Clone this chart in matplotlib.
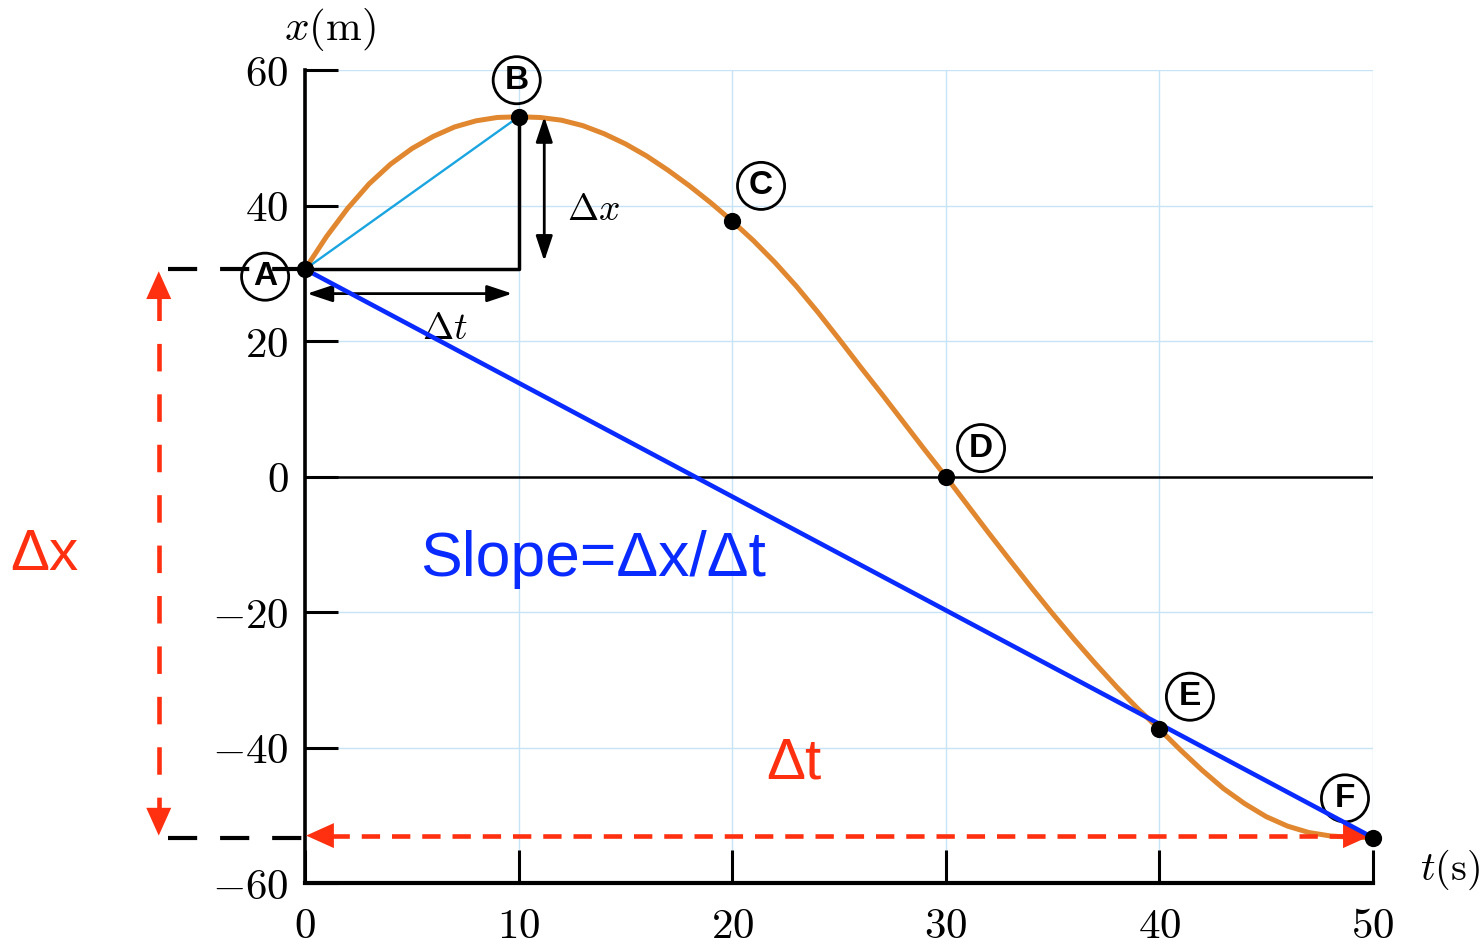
import matplotlib
matplotlib.use("Agg")
import matplotlib.pyplot as plt

plt.rcParams['mathtext.fontset'] = 'cm'
plt.rcParams['font.family'] = ['Liberation Sans', 'DejaVu Sans']

# position curve x(t), read every second
t_curve = list(range(0, 51))
x_curve = [30.6, 35.4, 39.6, 43.2, 46.1, 48.4, 50.2, 51.6, 52.5, 53.0,
           53.1, 53.0, 52.6, 51.8, 50.6, 49.1, 47.3, 45.2, 42.9, 40.4,
           37.7, 34.8, 31.6, 28.1, 24.3, 20.3, 16.2, 12.2, 8.1, 4.0,
           0.0, -4.15, -8.3, -12.35, -16.35, -20.25, -24.0, -27.6, -31.05, -34.3,
           -37.3, -40.4, -43.35, -46.05, -48.3, -50.2, -51.6, -52.55, -53.05, -53.25,
           -53.3]

# labelled points A..F
pt_names = ['A', 'B', 'C', 'D', 'E', 'F']
pt_t = [0, 10, 20, 30, 40, 50]
pt_x = [30.6, 53.1, 37.7, 0.0, -37.3, -53.3]
# where the circled letters sit
lbl_t = [-1.87, 9.91, 21.35, 31.65, 41.43, 48.69]
lbl_x = [29.5, 58.5, 42.9, 4.2, -32.5, -47.5]

x_ticks = [0, 10, 20, 30, 40, 50]
y_ticks = [-60, -40, -20, 0, 20, 40, 60]

orange = '#E0872F'
blue = '#0A2BFF'
cyan = '#1AA5E0'
red = '#FF3010'
grid_col = '#C6E4F5'

fig = plt.figure(figsize=(14.83, 9.44), dpi=100)
ax = fig.add_axes([0.2057, 0.0646, 0.7201, 0.8612])
ax.set_xlim(0, 50)
ax.set_ylim(-60, 60)

ax.spines['top'].set_visible(False)
ax.spines['right'].set_visible(False)
ax.spines['left'].set_linewidth(2.6)
ax.spines['bottom'].set_linewidth(3.0)

ax.set_xticks(x_ticks)
ax.set_yticks(y_ticks)
ax.set_xticklabels(['$%d$' % v for v in x_ticks])
ax.set_yticklabels(['$%d$' % v for v in y_ticks])
ax.tick_params(direction='in', length=24, width=2.2, labelsize=31, colors='black')
ax.tick_params(axis='x', pad=17)
ax.tick_params(axis='y', pad=12)

ax.set_axisbelow(True)
ax.grid(True, color=grid_col, lw=1.0)

# t axis through zero
ax.plot([0, 50], [0, 0], color='black', lw=1.8, zorder=2)

# axis names
ax.text(1.17, 66.0, r'$x(\mathrm{m})$', fontsize=31, ha='center', va='center')
ax.text(53.6, -58.0, r'$t(\mathrm{s})$', fontsize=29, ha='center', va='center')

# circled letters
ax.scatter(lbl_t, lbl_x, s=1150, facecolors='none', edgecolors='black',
           linewidths=2.0, zorder=2, clip_on=False)
for n, lt, lx in zip(pt_names, lbl_t, lbl_x):
    ax.text(lt, lx, n, fontsize=24, fontweight='bold', ha='center',
            va='center', zorder=2)

# curve
ax.plot(t_curve, x_curve, color=orange, lw=3.6, zorder=3,
        solid_capstyle='round', solid_joinstyle='round')

# chord A-B and the triangle under it
ax.plot([pt_t[0], pt_t[1]], [pt_x[0], pt_x[1]], color=cyan, lw=1.7, zorder=4)
ax.plot([pt_t[0], pt_t[1], pt_t[1]], [pt_x[0], pt_x[0], pt_x[1]],
        color='black', lw=2.5, zorder=3)

# secant A-F
ax.plot([pt_t[0], pt_t[5]], [pt_x[0], pt_x[5]], color=blue, lw=3.3, zorder=4)

# small delta arrows
blk = dict(arrowstyle='<|-|>,head_length=0.9,head_width=0.3', color='black',
           lw=2.0, shrinkA=0, shrinkB=0, mutation_scale=17)
ax.annotate('', xy=(11.2, pt_x[1]), xytext=(11.2, 31.8), arrowprops=blk)
ax.annotate('', xy=(0.1, 27.0), xytext=(9.7, 27.0), arrowprops=blk)
ax.text(13.5, 39.3, r'$\Delta x$', fontsize=27, ha='center', va='center')
ax.text(6.55, 21.8, r'$\Delta t$', fontsize=27, ha='center', va='center')

# big delta guides
t_left = -6.4
t_red = -6.85
ax.plot([t_left, 0], [pt_x[0], pt_x[0]], color='black', lw=3.0,
        ls=(0, (7, 5.5)), clip_on=False, zorder=3)
ax.plot([t_left, 0], [pt_x[5], pt_x[5]], color='black', lw=3.0,
        ls=(0, (7, 5.5)), clip_on=False, zorder=3)
ax.plot([t_red, t_red], [pt_x[0] - 3.5, pt_x[5] + 3.5], color=red, lw=3.3,
        ls=(0, (6.0, 5.0)), clip_on=False, zorder=3)
ax.plot([1.2, 48.8], [pt_x[5] + 0.3, pt_x[5] + 0.3], color=red, lw=3.3,
        ls=(0, (4.0, 2.6)), clip_on=False, zorder=3)

red_head = dict(arrowstyle='-|>,head_length=1.0,head_width=0.45', color=red,
                lw=0, shrinkA=0, shrinkB=0, mutation_scale=20)
ax.annotate('', xy=(t_red, pt_x[0] - 0.3), xytext=(t_red, pt_x[0] - 4.5),
            arrowprops=red_head, annotation_clip=False)
ax.annotate('', xy=(t_red, pt_x[5] + 0.3), xytext=(t_red, pt_x[5] + 4.5),
            arrowprops=red_head, annotation_clip=False)
ax.annotate('', xy=(0.05, pt_x[5] + 0.3), xytext=(1.4, pt_x[5] + 0.3),
            arrowprops=red_head, annotation_clip=False)
ax.annotate('', xy=(49.9, pt_x[5] + 0.3), xytext=(48.5, pt_x[5] + 0.3),
            arrowprops=red_head, annotation_clip=False)

ax.text(-12.2, -11.6, 'Δx', color=red, fontsize=42, ha='center', va='center')
ax.text(22.9, -42.3, 'Δt', color=red, fontsize=42, ha='center', va='center')
ax.text(13.5, -12.2, 'Slope=Δx/Δt', color=blue, fontsize=45, ha='center',
        va='center')

# points
ax.scatter(pt_t, pt_x, s=130, color='black', zorder=6, clip_on=False)

fig.savefig('out.png', dpi=100)
